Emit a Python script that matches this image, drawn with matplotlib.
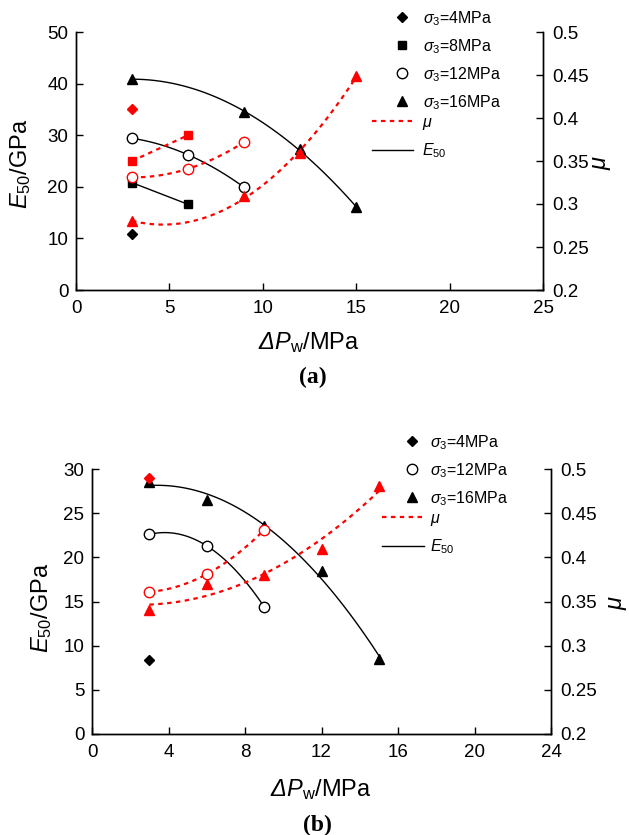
import numpy as np
import matplotlib
matplotlib.use('Agg')
import matplotlib.pyplot as plt
from matplotlib.ticker import FormatStrFormatter, MultipleLocator
from matplotlib.lines import Line2D

plt.rcParams['font.family'] = 'Liberation Sans'
plt.rcParams['mathtext.fontset'] = 'custom'
plt.rcParams['mathtext.rm'] = 'Liberation Sans'
plt.rcParams['mathtext.it'] = 'Liberation Sans:italic'
plt.rcParams['mathtext.bf'] = 'Liberation Sans:bold'
# italic Greek capital (mathtext puts capitals of \mathit upright)
plt.rcParams['mathtext.sf'] = 'Liberation Sans:italic'

# ---- panel (a) data: dPw (MPa), E50 (GPa), mu ----
a_x4 = [3]
a_E4 = [10.8]
a_mu4 = [0.410]
a_x8 = [3, 6]
a_E8 = [20.8, 16.6]
a_mu8 = [0.350, 0.380]
a_x12 = [3, 6, 9]
a_E12 = [29.4, 26.2, 19.9]
a_mu12 = [0.331, 0.341, 0.372]
a_x16 = [3, 9, 12, 15]
a_E16 = [40.9, 34.4, 27.3, 16.0]
a_mu16 = [0.280, 0.309, 0.359, 0.449]

# ---- panel (b) data ----
b_x4 = [3]
b_E4 = [8.4]
b_mu4 = [0.490]
b_x12 = [3, 6, 9]
b_E12 = [22.6, 21.3, 14.4]
b_mu12 = [0.361, 0.381, 0.431]
b_x16 = [3, 6, 9, 12, 15]
b_E16 = [28.5, 26.5, 23.5, 18.45, 8.45]
b_mu16 = [0.340, 0.370, 0.380, 0.409, 0.481]

W, H = 629, 835
fig = plt.figure(figsize=(W / 100, H / 100), dpi=100)

def fx(px):
    return px / W

def fy(py):
    return 1 - py / H

# marker styles: (marker, size, open?)
styles = {'4': ('D', 5.5, False), '8': ('s', 6, False),
          '12': ('o', 7.5, True), '16': ('^', 7.5, False)}


def fit_curve(x, y):
    deg = min(2, len(x) - 1)
    c = np.polyfit(x, y, deg)
    xs = np.linspace(min(x), max(x), 100)
    return xs, np.polyval(c, xs)


def panel(ax, series, ylim, ystep, xlim, xstep):
    ax2 = ax.twinx()
    for key, x, E, mu in series:
        m, ms, hollow = styles[key]
        if len(x) > 1:
            xs, ys = fit_curve(x, E)
            ax.plot(xs, ys, color='k', lw=1)
            xs, ys = fit_curve(x, mu)
            ax2.plot(xs, ys, color='red', lw=1.6, ls=(0, (2, 2)))
        ax.plot(x, E, ls='none', marker=m, ms=ms, color='k',
                mfc='white' if hollow else 'k', mew=1)
        ax2.plot(x, mu, ls='none', marker=m, ms=ms, color='red',
                 mfc='white' if hollow else 'red', mew=1)
    ax.set_xlim(*xlim)
    ax.set_ylim(*ylim)
    ax2.set_ylim(0.2, 0.5)
    ax.xaxis.set_major_locator(MultipleLocator(xstep))
    ax.yaxis.set_major_locator(MultipleLocator(ystep))
    ax2.yaxis.set_major_locator(MultipleLocator(0.05))
    ax2.yaxis.set_major_formatter(FormatStrFormatter('%g'))
    for a in (ax, ax2):
        a.spines['top'].set_visible(False)
        for s in a.spines.values():
            s.set_linewidth(1)
        a.tick_params(direction='in', length=5, width=1, labelsize=13.5, pad=5.5)
    ax.tick_params(axis='x', pad=7)
    ax2.tick_params(axis='y', pad=6.5)
    return ax2


ax_a = fig.add_axes([fx(76), fy(290), (543 - 76) / W, (290 - 32) / H])
panel(ax_a, [('4', a_x4, a_E4, a_mu4), ('8', a_x8, a_E8, a_mu8),
             ('12', a_x12, a_E12, a_mu12), ('16', a_x16, a_E16, a_mu16)],
      (0, 50), 10, (0, 25), 5)

ax_b = fig.add_axes([fx(92), fy(734), (551 - 92) / W, (734 - 469) / H])
panel(ax_b, [('4', b_x4, b_E4, b_mu4), ('12', b_x12, b_E12, b_mu12),
             ('16', b_x16, b_E16, b_mu16)],
      (0, 30), 5, (0, 24), 4)

# axis labels and panel captions
lab = 17
xlab = '$\\mathsf{Δ}\\mathit{P}_{\\rm w}$/MPa'
fig.text(fx(21), fy(164), r'$E_{\rm 50}$/GPa', rotation=90, ha='center', va='center', fontsize=lab)
fig.text(fx(602), fy(162), r'$\mu$', rotation=90, ha='center', va='center', fontsize=lab)
fig.text(fx(309), fy(343), xlab, ha='center', va='center', fontsize=lab)
fig.text(fx(313), fy(377), '(a)', ha='center', va='center', fontsize=17,
         fontweight='bold', family='Liberation Serif')

fig.text(fx(42), fy(608), r'$E_{\rm 50}$/GPa', rotation=90, ha='center', va='center', fontsize=lab)
fig.text(fx(618), fy(602), r'$\mu$', rotation=90, ha='center', va='center', fontsize=lab)
fig.text(fx(321), fy(790), xlab, ha='center', va='center', fontsize=lab)
fig.text(fx(317), fy(825), '(b)', ha='center', va='center', fontsize=17,
         fontweight='bold', family='Liberation Serif')

# legends: markers block and line block
leg_fs = 11.5


def marker_handles(keys):
    hs = []
    for k in keys:
        m, ms, hollow = styles[k]
        hs.append(Line2D([], [], ls='none', marker=m, ms=ms, color='k',
                         mfc='white' if hollow else 'k'))
    return hs


line_handles = [Line2D([], [], color='red', lw=1.6, ls=(0, (2, 2))),
                Line2D([], [], color='k', lw=1)]
line_labels = [r'$\mu$', r'$E_{\rm 50}$']


def add_legends(keys, mx, mtop, mpad, lx, ltop, llen, lpad):
    fig.legend(marker_handles(keys),
               [r'$\sigma_{\rm 3}$=%sMPa' % k for k in keys],
               loc='upper left', bbox_to_anchor=(fx(mx), fy(mtop)),
               frameon=False, fontsize=leg_fs, borderpad=0, borderaxespad=0,
               handlelength=1.0, handletextpad=mpad, labelspacing=0.58,
               numpoints=1)
    fig.legend(line_handles, line_labels,
               loc='upper left', bbox_to_anchor=(fx(lx), fy(ltop)),
               frameon=False, fontsize=leg_fs, borderpad=0, borderaxespad=0,
               handlelength=llen, handletextpad=lpad, labelspacing=0.58)


add_legends(['4', '8', '12', '16'], 394, 9, 0.8, 372, 115, 2.56, 0.6)
add_legends(['4', '12', '16'], 404, 433, 0.62, 382, 511, 2.6, 0.42)

fig.savefig('out.png', dpi=100)
